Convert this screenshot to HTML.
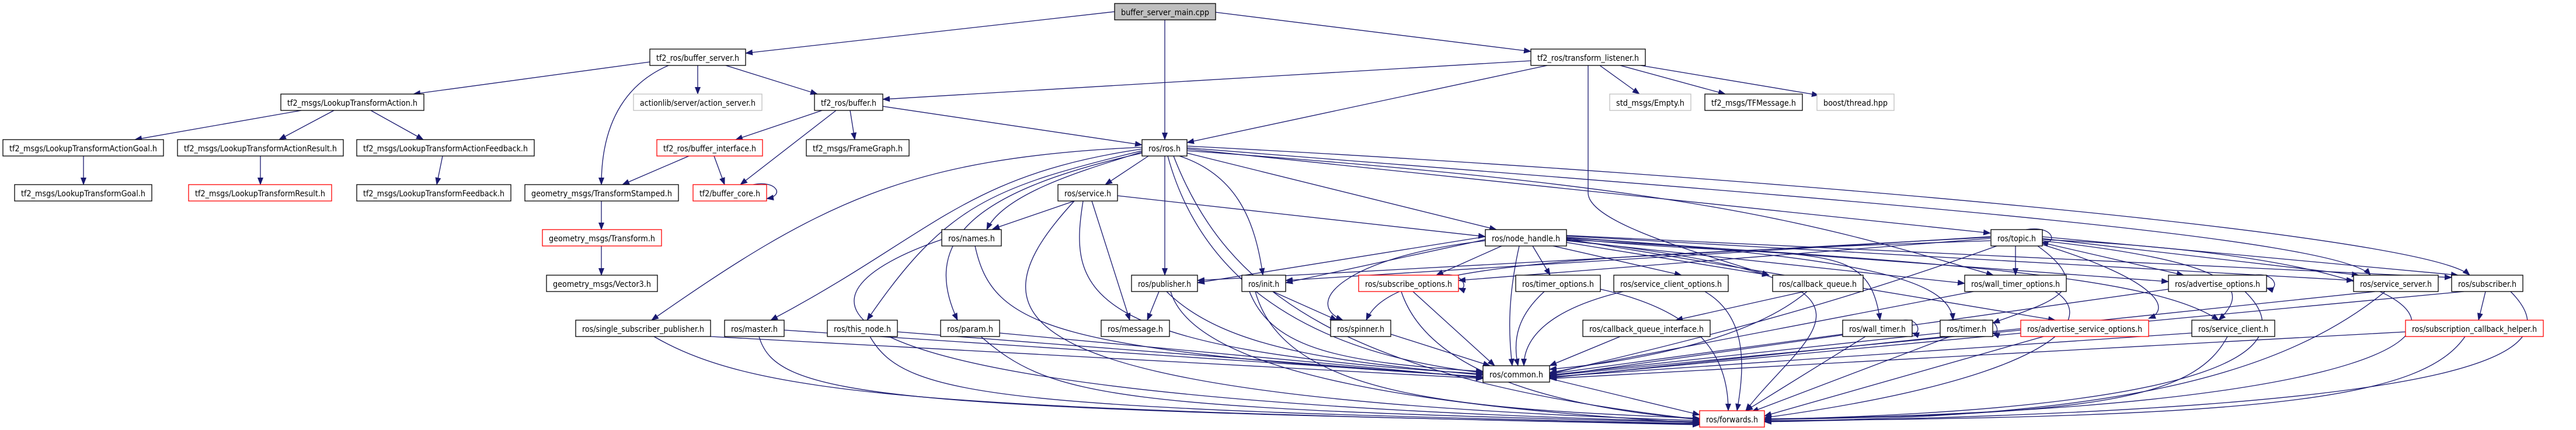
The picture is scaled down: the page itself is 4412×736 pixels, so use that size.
<!DOCTYPE html>
<html><head><meta charset="utf-8"><style>
html,body{margin:0;padding:0;background:#fff;}
svg{display:block;}
text{font-family:"DejaVu Sans","Liberation Sans",sans-serif;font-size:14px;fill:#000;}
.e{fill:none;stroke:#191970;stroke-width:1.3;marker-end:url(#a);}
.n{fill:#fff;stroke:#000;stroke-width:1.3;}
.r{fill:#fff;stroke:#ff0000;stroke-width:1.3;}
.g{fill:#fff;stroke:#bfbfbf;stroke-width:1.3;}
</style></head><body>
<svg width="4412" height="736" viewBox="0 0 4412 736" xmlns="http://www.w3.org/2000/svg">
<defs><marker id="a" markerUnits="userSpaceOnUse" markerWidth="13" markerHeight="10" refX="12" refY="5" orient="auto"><path d="M0,0 L13,5 L0,10 z" fill="#191970"/></marker></defs>
<g>
<path class="e" d="M1909,20 L1277,91"/>
<path class="e" d="M1995,34 L1995,239"/>
<path class="e" d="M2082,21 L2622,88"/>
<path class="e" d="M1113,106 L708,161"/>
<path class="e" d="M1195,112 L1195,161"/>
<path class="e" d="M1243,112 L1400,161"/>
<path class="e" d="M1145,112 C1080,140 1030,200 1030,316"/>
<path class="e" d="M2622,104 L1512,170"/>
<path class="e" d="M2650,112 L2033,244"/>
<path class="e" d="M2740,112 L2808,161"/>
<path class="e" d="M2775,112 L2955,161"/>
<path class="e" d="M2810,112 L3115,163"/>
<path class="e" d="M2720,112 L2720,330 C2720,380 2900,430 3030,471"/>
<path class="e" d="M516,189 L231,239"/>
<path class="e" d="M572,189 L478,239"/>
<path class="e" d="M635,189 L725,239"/>
<path class="e" d="M143,267 L143,316"/>
<path class="e" d="M446,267 L446,316"/>
<path class="e" d="M758,267 L748,316"/>
<path class="e" d="M1408,189 L1260,239"/>
<path class="e" d="M1432,189 L1268,316"/>
<path class="e" d="M1456,189 L1464,239"/>
<path class="e" d="M1512,182 L1956,248"/>
<path class="e" d="M1180,267 L1066,316"/>
<path class="e" d="M1223,267 L1241,316"/>
<path class="e" d="M1290,316 C1330,308 1345,335 1313,340"/>
<path class="e" d="M1030,344 L1030,393"/>
<path class="e" d="M1030,421 L1030,471"/>
<path class="e" d="M1967,267 L1893,316"/>
<path class="e" d="M1956,260 C1860,290 1720,330 1690,393"/>
<path class="e" d="M1995,267 L1995,471"/>
<path class="e" d="M2020,267 C2120,300 2150,380 2163,471"/>
<path class="e" d="M1956,255 C1650,300 1600,400 1320,548"/>
<path class="e" d="M1956,258 C1700,320 1620,350 1485,548"/>
<path class="e" d="M1956,262 C1650,330 1580,420 1640,548"/>
<path class="e" d="M1956,252 C1550,270 1400,350 1116,548"/>
<path class="e" d="M2033,262 L2563,393"/>
<path class="e" d="M2033,255 L3409,399"/>
<path class="e" d="M2033,253 C3000,330 4000,400 4060,471"/>
<path class="e" d="M2033,250 C3000,300 4150,400 4230,471"/>
<path class="e" d="M2033,258 C2900,320 3100,380 3414,471"/>
<path class="e" d="M2000,267 C2050,450 2200,600 2540,638"/>
<path class="e" d="M2010,267 C2100,500 2300,650 2911,718"/>
<path class="e" d="M1840,344 L1700,392"/>
<path class="e" d="M1914,335 L2544,405"/>
<path class="e" d="M1870,344 L1935,548"/>
<path class="e" d="M1855,344 C1830,500 1850,600 2540,640"/>
<path class="e" d="M1840,344 C1650,550 1700,680 2911,720"/>
<path class="e" d="M1670,421 C1700,560 1800,600 2540,645"/>
<path class="e" d="M1613,410 C1350,500 1250,680 2911,722"/>
<path class="e" d="M1985,499 L1965,548"/>
<path class="e" d="M1998,499 C2100,600 2300,620 2540,642"/>
<path class="e" d="M2005,499 C2050,650 2500,700 2911,724"/>
<path class="e" d="M2180,499 L2290,548"/>
<path class="e" d="M2140,499 C2180,600 2300,620 2540,636"/>
<path class="e" d="M2150,499 C2200,680 2500,700 2911,716"/>
<path class="e" d="M1343,565 L2540,645"/>
<path class="e" d="M1300,576 C1330,680 1500,700 2911,726"/>
<path class="e" d="M1537,568 L2540,646"/>
<path class="e" d="M1490,576 C1550,680 1700,700 2911,725"/>
<path class="e" d="M1712,570 L2540,647"/>
<path class="e" d="M1680,576 C1800,680 1900,700 2911,723"/>
<path class="e" d="M1217,576 L2540,648"/>
<path class="e" d="M1120,576 C1300,680 1600,700 2911,727"/>
<path class="e" d="M2572,421 L2460,471"/>
<path class="e" d="M2625,421 L2655,471"/>
<path class="e" d="M2660,421 L2880,471"/>
<path class="e" d="M2683,415 L3030,471"/>
<path class="e" d="M2602,421 C2580,520 2585,580 2590,626"/>
<path class="e" d="M2544,405 L2051,484"/>
<path class="e" d="M2544,410 L2202,484"/>
<path class="e" d="M2544,412 C2300,440 2230,520 2300,548"/>
<path class="e" d="M2683,408 C3100,450 3200,400 3220,548"/>
<path class="e" d="M2683,407 C3200,440 3340,480 3345,548"/>
<path class="e" d="M2683,404 L4031,480"/>
<path class="e" d="M2683,403 L4199,475"/>
<path class="e" d="M2683,406 L3714,482"/>
<path class="e" d="M2683,409 L3520,548"/>
<path class="e" d="M2683,410 C3400,450 3700,480 3800,548"/>
<path class="e" d="M2683,412 L3365,485"/>
<path class="e" d="M2683,411 C3300,480 3100,560 2990,703"/>
<path class="e" d="M3452,421 L3452,471"/>
<path class="e" d="M3409,408 L2498,480"/>
<path class="e" d="M3409,406 L2051,480"/>
<path class="e" d="M3409,405 L2202,480"/>
<path class="e" d="M3496,415 L3740,471"/>
<path class="e" d="M3496,408 L4040,471"/>
<path class="e" d="M3496,405 L4210,471"/>
<path class="e" d="M3496,412 C3850,450 3850,500 3800,548"/>
<path class="e" d="M3490,421 C3600,500 3500,520 3413,553"/>
<path class="e" d="M3496,418 C3700,480 3720,530 3680,545"/>
<path class="e" d="M3409,412 C2600,440 2380,460 2340,548"/>
<path class="e" d="M3420,421 C3200,500 3000,560 2654,640"/>
<path class="e" d="M3496,410 C4400,450 4420,700 3022,717"/>
<path class="e" d="M3470,393 C3520,385 3525,420 3496,415"/>
<path class="e" d="M2420,499 L2560,626"/>
<path class="e" d="M2400,499 C2450,650 2700,700 2911,718"/>
<path class="e" d="M2470,471 C2510,465 2515,500 2498,493"/>
<path class="e" d="M2645,499 C2600,540 2590,580 2600,626"/>
<path class="e" d="M2741,495 C2900,530 2960,600 2960,703"/>
<path class="e" d="M2780,499 C2650,530 2610,580 2610,626"/>
<path class="e" d="M2920,499 C2990,540 2990,620 2975,703"/>
<path class="e" d="M3090,499 L2870,548"/>
<path class="e" d="M3095,499 C3000,580 2800,620 2654,632"/>
<path class="e" d="M2775,576 L2654,626"/>
<path class="e" d="M2382,572 L2552,626"/>
<path class="e" d="M3156,572 L2654,640"/>
<path class="e" d="M3195,576 L2990,703"/>
<path class="e" d="M3260,548 C3290,545 3290,575 3275,570"/>
<path class="e" d="M3323,570 L2654,642"/>
<path class="e" d="M3340,576 L3000,705"/>
<path class="e" d="M3395,548 C3425,545 3425,575 3413,570"/>
<path class="e" d="M3461,565 L2654,643"/>
<path class="e" d="M3500,576 L3022,712"/>
<path class="e" d="M3754,570 L2654,645"/>
<path class="e" d="M3815,576 C3760,680 3600,710 3022,718"/>
<path class="e" d="M4120,568 L2654,648"/>
<path class="e" d="M4222,576 C4150,680 3900,715 3022,720"/>
<path class="e" d="M4068,499 L2654,647"/>
<path class="e" d="M4085,499 C3900,650 3600,715 3022,721"/>
<path class="e" d="M4220,499 L2654,646"/>
<path class="e" d="M4257,499 L4245,548"/>
<path class="e" d="M4300,499 C4400,600 4300,700 3022,722"/>
<path class="e" d="M3845,499 C3950,600 3800,700 3022,718"/>
<path class="e" d="M3714,495 L2654,644"/>
<path class="e" d="M3860,471 C3900,465 3905,500 3882,493"/>
<path class="e" d="M3380,499 L2654,638"/>
<path class="e" d="M3520,499 C3600,550 3500,650 3022,715"/>
<path class="e" d="M2654,648 L2911,710"/>
</g>
<g>
<rect class="n" x="1909" y="6" width="173" height="28" style="fill:#bfbfbf"/><text x="1920" y="26" textLength="151" lengthAdjust="spacingAndGlyphs">buffer_server_main.cpp</text>
<rect class="n" x="1113" y="84" width="164" height="28"/><text x="1124" y="104" textLength="142" lengthAdjust="spacingAndGlyphs">tf2_ros/buffer_server.h</text>
<rect class="n" x="2622" y="84" width="196" height="28"/><text x="2633" y="104" textLength="174" lengthAdjust="spacingAndGlyphs">tf2_ros/transform_listener.h</text>
<rect class="n" x="481" y="161" width="245" height="28"/><text x="492" y="181" textLength="223" lengthAdjust="spacingAndGlyphs">tf2_msgs/LookupTransformAction.h</text>
<rect class="g" x="1085" y="161" width="220" height="28"/><text x="1096" y="181" textLength="198" lengthAdjust="spacingAndGlyphs">actionlib/server/action_server.h</text>
<rect class="n" x="1395" y="161" width="117" height="28"/><text x="1406" y="181" textLength="95" lengthAdjust="spacingAndGlyphs">tf2_ros/buffer.h</text>
<rect class="g" x="2757" y="161" width="139" height="28"/><text x="2768" y="181" textLength="117" lengthAdjust="spacingAndGlyphs">std_msgs/Empty.h</text>
<rect class="n" x="2920" y="161" width="167" height="28"/><text x="2931" y="181" textLength="145" lengthAdjust="spacingAndGlyphs">tf2_msgs/TFMessage.h</text>
<rect class="g" x="3112" y="161" width="132" height="28"/><text x="3123" y="181" textLength="110" lengthAdjust="spacingAndGlyphs">boost/thread.hpp</text>
<rect class="n" x="5" y="239" width="275" height="28"/><text x="16" y="259" textLength="253" lengthAdjust="spacingAndGlyphs">tf2_msgs/LookupTransformActionGoal.h</text>
<rect class="n" x="304" y="239" width="284" height="28"/><text x="315" y="259" textLength="262" lengthAdjust="spacingAndGlyphs">tf2_msgs/LookupTransformActionResult.h</text>
<rect class="n" x="611" y="239" width="304" height="28"/><text x="622" y="259" textLength="282" lengthAdjust="spacingAndGlyphs">tf2_msgs/LookupTransformActionFeedback.h</text>
<rect class="r" x="1125" y="239" width="181" height="28"/><text x="1136" y="259" textLength="159" lengthAdjust="spacingAndGlyphs">tf2_ros/buffer_interface.h</text>
<rect class="n" x="1381" y="239" width="176" height="28"/><text x="1392" y="259" textLength="154" lengthAdjust="spacingAndGlyphs">tf2_msgs/FrameGraph.h</text>
<rect class="n" x="1956" y="239" width="77" height="28"/><text x="1967" y="259" textLength="55" lengthAdjust="spacingAndGlyphs">ros/ros.h</text>
<rect class="n" x="25" y="316" width="235" height="28"/><text x="36" y="336" textLength="213" lengthAdjust="spacingAndGlyphs">tf2_msgs/LookupTransformGoal.h</text>
<rect class="r" x="323" y="316" width="245" height="28"/><text x="334" y="336" textLength="223" lengthAdjust="spacingAndGlyphs">tf2_msgs/LookupTransformResult.h</text>
<rect class="n" x="611" y="316" width="264" height="28"/><text x="622" y="336" textLength="242" lengthAdjust="spacingAndGlyphs">tf2_msgs/LookupTransformFeedback.h</text>
<rect class="n" x="899" y="316" width="263" height="28"/><text x="910" y="336" textLength="241" lengthAdjust="spacingAndGlyphs">geometry_msgs/TransformStamped.h</text>
<rect class="r" x="1187" y="316" width="126" height="28"/><text x="1198" y="336" textLength="104" lengthAdjust="spacingAndGlyphs">tf2/buffer_core.h</text>
<rect class="n" x="1812" y="316" width="102" height="28"/><text x="1823" y="336" textLength="80" lengthAdjust="spacingAndGlyphs">ros/service.h</text>
<rect class="r" x="929" y="393" width="204" height="28"/><text x="940" y="413" textLength="182" lengthAdjust="spacingAndGlyphs">geometry_msgs/Transform.h</text>
<rect class="n" x="1613" y="393" width="102" height="28"/><text x="1624" y="413" textLength="80" lengthAdjust="spacingAndGlyphs">ros/names.h</text>
<rect class="n" x="2544" y="393" width="139" height="28"/><text x="2555" y="413" textLength="117" lengthAdjust="spacingAndGlyphs">ros/node_handle.h</text>
<rect class="n" x="3410" y="393" width="88" height="28"/><text x="3421" y="413" textLength="66" lengthAdjust="spacingAndGlyphs">ros/topic.h</text>
<rect class="n" x="936" y="471" width="190" height="28"/><text x="947" y="491" textLength="168" lengthAdjust="spacingAndGlyphs">geometry_msgs/Vector3.h</text>
<rect class="n" x="1938" y="471" width="113" height="28"/><text x="1949" y="491" textLength="91" lengthAdjust="spacingAndGlyphs">ros/publisher.h</text>
<rect class="n" x="2127" y="471" width="75" height="28"/><text x="2138" y="491" textLength="53" lengthAdjust="spacingAndGlyphs">ros/init.h</text>
<rect class="r" x="2327" y="471" width="171" height="28"/><text x="2338" y="491" textLength="149" lengthAdjust="spacingAndGlyphs">ros/subscribe_options.h</text>
<rect class="n" x="2596" y="471" width="145" height="28"/><text x="2607" y="491" textLength="123" lengthAdjust="spacingAndGlyphs">ros/timer_options.h</text>
<rect class="n" x="2764" y="471" width="196" height="28"/><text x="2775" y="491" textLength="174" lengthAdjust="spacingAndGlyphs">ros/service_client_options.h</text>
<rect class="n" x="3036" y="471" width="155" height="28"/><text x="3047" y="491" textLength="133" lengthAdjust="spacingAndGlyphs">ros/callback_queue.h</text>
<rect class="n" x="3365" y="471" width="174" height="28"/><text x="3376" y="491" textLength="152" lengthAdjust="spacingAndGlyphs">ros/wall_timer_options.h</text>
<rect class="n" x="3714" y="471" width="168" height="28"/><text x="3725" y="491" textLength="146" lengthAdjust="spacingAndGlyphs">ros/advertise_options.h</text>
<rect class="n" x="4031" y="471" width="145" height="28"/><text x="4042" y="491" textLength="123" lengthAdjust="spacingAndGlyphs">ros/service_server.h</text>
<rect class="n" x="4199" y="471" width="122" height="28"/><text x="4210" y="491" textLength="100" lengthAdjust="spacingAndGlyphs">ros/subscriber.h</text>
<rect class="n" x="986" y="548" width="231" height="28"/><text x="997" y="568" textLength="209" lengthAdjust="spacingAndGlyphs">ros/single_subscriber_publisher.h</text>
<rect class="n" x="1241" y="548" width="102" height="28"/><text x="1252" y="568" textLength="80" lengthAdjust="spacingAndGlyphs">ros/master.h</text>
<rect class="n" x="1417" y="548" width="120" height="28"/><text x="1428" y="568" textLength="98" lengthAdjust="spacingAndGlyphs">ros/this_node.h</text>
<rect class="n" x="1611" y="548" width="101" height="28"/><text x="1622" y="568" textLength="79" lengthAdjust="spacingAndGlyphs">ros/param.h</text>
<rect class="n" x="1886" y="548" width="117" height="28"/><text x="1897" y="568" textLength="95" lengthAdjust="spacingAndGlyphs">ros/message.h</text>
<rect class="n" x="2279" y="548" width="103" height="28"/><text x="2290" y="568" textLength="81" lengthAdjust="spacingAndGlyphs">ros/spinner.h</text>
<rect class="n" x="2711" y="548" width="218" height="28"/><text x="2722" y="568" textLength="196" lengthAdjust="spacingAndGlyphs">ros/callback_queue_interface.h</text>
<rect class="n" x="3156" y="548" width="119" height="28"/><text x="3167" y="568" textLength="97" lengthAdjust="spacingAndGlyphs">ros/wall_timer.h</text>
<rect class="n" x="3323" y="548" width="90" height="28"/><text x="3334" y="568" textLength="68" lengthAdjust="spacingAndGlyphs">ros/timer.h</text>
<rect class="r" x="3461" y="548" width="219" height="28"/><text x="3472" y="568" textLength="197" lengthAdjust="spacingAndGlyphs">ros/advertise_service_options.h</text>
<rect class="n" x="3754" y="548" width="142" height="28"/><text x="3765" y="568" textLength="120" lengthAdjust="spacingAndGlyphs">ros/service_client.h</text>
<rect class="r" x="4120" y="548" width="236" height="28"/><text x="4131" y="568" textLength="214" lengthAdjust="spacingAndGlyphs">ros/subscription_callback_helper.h</text>
<rect class="n" x="2540" y="626" width="114" height="28"/><text x="2551" y="646" textLength="92" lengthAdjust="spacingAndGlyphs">ros/common.h</text>
<rect class="r" x="2911" y="703" width="111" height="28"/><text x="2922" y="723" textLength="89" lengthAdjust="spacingAndGlyphs">ros/forwards.h</text>
</g>
</svg>
</body></html>
